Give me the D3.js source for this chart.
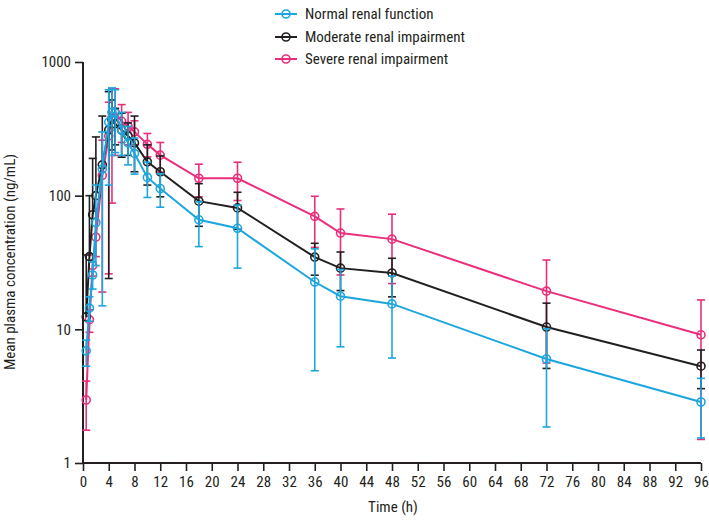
<!DOCTYPE html>
<html><head><meta charset="utf-8">
<script src="https://cdn.jsdelivr.net/npm/d3@7"></script>
<style>
body{margin:0;background:#fff;}
text{font-family:"Liberation Sans Narrow","Roboto Condensed","Arial Narrow",Arial,sans-serif;fill:#231f20;}
</style></head>
<body><svg id="c" width="709" height="525"></svg>
<script>
const times = [0.5,1,1.5,2,3,4,4.5,5,6,7,8,10,12,18,24,36,40,48,72,96];
const seriesNames = ["Normal renal function","Moderate renal impairment","Severe renal impairment"];
const seriesColors = ["#1ca6de","#231f20","#ea2e7b"];
const normalMean  = [6.9,14.4,25.5,63,158,355,420,415,310,248,207,137,113,66,57,22.6,17.7,15.5,6.0,2.86];
const normalUpper = [8.3,17.5,32,120,300,620,640,620,420,330,270,178,146,90,85,40,28,25,10.1,4.3];
const normalLower = [5.3,11.5,20,30,15,120,200,210,200,170,145,97,82,41.6,28.7,4.9,7.4,6.1,1.86,1.54];
const moderateMean  = [12.4,35,72,100,170,310,370,345,310,280,248,179,151,91,81,34.7,28.7,26.4,10.4,5.3];
const moderateUpper = [36,100,190,275,394,600,520,450,414,350,394,240,198,123,106,44,37.9,34,15.7,7.0];
const moderateLower = [null,null,null,null,null,24,220,240,194,200,151,120,98,59,56,25.4,19.5,17.5,5.1,3.6];
const severeMean  = [2.96,11.8,30,49,142,280,380,420,360,330,300,242,201,135,135,70,52.5,47.3,19.3,9.1];
const severeUpper = [4.1,14,36,80,260,500,630,630,480,420,363,292,250,172,178,99,79.5,72.7,33,16.6];
const severeLower = [1.76,9.5,25,35,19,26,88,200,250,240,240,195,150,98,92,41,25.5,22,5.6,1.5];
const xTicks = d3.range(0,97,4);
const yTicks = [1,10,100,1000];

const series = [
  {name:seriesNames[2], color:seriesColors[2], mean:severeMean, up:severeUpper, lo:severeLower},
  {name:seriesNames[1], color:seriesColors[1], mean:moderateMean, up:moderateUpper, lo:moderateLower},
  {name:seriesNames[0], color:seriesColors[0], mean:normalMean, up:normalUpper, lo:normalLower}
];

const svg = d3.select("#c");
const x = d3.scaleLinear().domain([0,96]).range([83,701]);
const y = d3.scaleLog().domain([1,1000]).range([463,62]);

// axes
const xAxis = svg.append("g").attr("transform","translate(0,463)")
  .call(d3.axisBottom(x).tickValues(xTicks).tickSize(8).tickPadding(5).tickFormat(d3.format("d")));
const yAxis = svg.append("g").attr("transform","translate(83,0)")
  .call(d3.axisLeft(y).tickValues(yTicks).tickSize(8).tickPadding(4).tickFormat(d3.format("d")));
[xAxis,yAxis].forEach(g=>{
  g.select(".domain").attr("stroke","#231f20").attr("stroke-width",2);
  g.selectAll(".tick line").attr("stroke","#231f20").attr("stroke-width",1.6);
  g.selectAll(".tick text").style("font-size","15px").attr("fill","#231f20");
});
xAxis.select(".domain").attr("d","M83,0H701");
yAxis.select(".domain").attr("d","M0,62V463");

svg.append("text").attr("x",393).attr("y",512).attr("text-anchor","middle")
  .style("font-size","15px").text("Time (h)");
svg.append("text").attr("transform","translate(15,262) rotate(-90)").attr("text-anchor","middle")
  .style("font-size","15px").text("Mean plasma concentration (ng/mL)");

const line = d3.line().x(d=>x(d.t)).y(d=>y(d.v));
const cap = 4;
series.forEach(s=>{
  const g = svg.append("g");
  const pts = times.map((t,i)=>({t, v:s.mean[i], up:s.up[i], lo:s.lo[i]}));
  // error bars
  pts.forEach(p=>{
    const cx = x(p.t);
    const yu = y(p.up), ym = y(p.v);
    g.append("line").attr("x1",cx).attr("x2",cx).attr("y1",ym).attr("y2",yu).attr("stroke",s.color).attr("stroke-width",1.6);
    g.append("line").attr("x1",cx-cap).attr("x2",cx+cap).attr("y1",yu).attr("y2",yu).attr("stroke",s.color).attr("stroke-width",1.6);
    if(p.lo!==null){
      const yl = y(p.lo);
      g.append("line").attr("x1",cx).attr("x2",cx).attr("y1",ym).attr("y2",yl).attr("stroke",s.color).attr("stroke-width",1.6);
      g.append("line").attr("x1",cx-cap).attr("x2",cx+cap).attr("y1",yl).attr("y2",yl).attr("stroke",s.color).attr("stroke-width",1.6);
    }
  });
  g.append("path").datum(pts).attr("d",line).attr("fill","none").attr("stroke",s.color).attr("stroke-width",2);
  g.selectAll("circle").data(pts).enter().append("circle")
    .attr("cx",d=>x(d.t)).attr("cy",d=>y(d.v)).attr("r",4)
    .attr("fill","none").attr("stroke",s.color).attr("stroke-width",1.6);
});

// legend
const legY = [14,37,59];
seriesNames.forEach((n,i)=>{
  const g = svg.append("g").attr("transform",`translate(275,${legY[i]})`);
  g.append("line").attr("x1",0).attr("x2",22).attr("y1",0).attr("y2",0).attr("stroke",seriesColors[i]).attr("stroke-width",2);
  g.append("circle").attr("cx",11).attr("cy",0).attr("r",4).attr("fill","none").attr("stroke",seriesColors[i]).attr("stroke-width",1.6);
  g.append("text").attr("x",30).attr("y",5).style("font-size","15px").text(n);
});
</script></body></html>
